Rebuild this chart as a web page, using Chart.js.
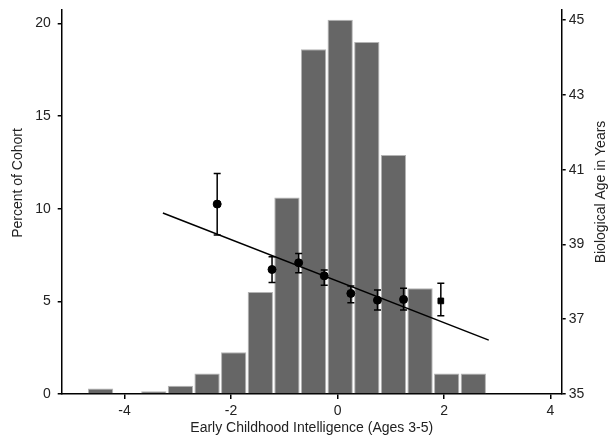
<!DOCTYPE html>
<html>
<head>
<meta charset="utf-8">
<script src="https://cdn.jsdelivr.net/npm/chart.js@4.4.1/dist/chart.umd.min.js"></script>
<style>
  body { margin: 0; background: #fff; }
  #wrap { width: 609px; height: 439px; }
</style>
</head>
<body>
<div id="wrap"><canvas id="chart"></canvas></div>
<script>
// histogram bins (centre of each 0.5 wide bin) and percent of cohort
var binX = [-4.45, -3.95, -3.45, -2.95, -2.45, -1.95, -1.45, -0.95, -0.45, 0.05, 0.55, 1.05, 1.55, 2.05, 2.55];
var binPct = [0.3, 0, 0.15, 0.45, 1.1, 2.25, 5.5, 10.6, 18.6, 20.2, 19.0, 12.9, 5.7, 1.1, 1.1];

// mean biological age with error bars
var ageX = [-2.26, -1.23, -0.73, -0.25, 0.25, 0.75, 1.24, 1.94];
var ageY = [40.08, 38.33, 38.51, 38.16, 37.69, 37.51, 37.53, 37.49];
var ageLo = [39.25, 37.98, 38.24, 37.91, 37.44, 37.25, 37.25, 37.09];
var ageHi = [40.90, 38.67, 38.76, 38.32, 37.89, 37.78, 37.83, 37.96];
var ageStyle = ['circle', 'circle', 'circle', 'circle', 'circle', 'circle', 'circle', 'rect'];

// fitted line
var fitX = [-3.28, 2.84];
var fitY = [39.84, 36.44];

var xTicks = [-4, -2, 0, 2, 4];
var pctTicks = [0, 5, 10, 15, 20];
var ageTicks = [35, 37, 39, 41, 43, 45];

var textColor = '#222';
var fontFam = '"Liberation Sans", Arial, sans-serif';

function pts(xs, ys) {
    var out = [];
    for (var i = 0; i < xs.length; i++) {
        out.push({x: xs[i], y: ys[i]});
    }
    return out;
}

function setTicks(list) {
    return function(scale) {
        scale.ticks = list.map(function(v) { return {value: v}; });
    };
}

var errorBars = {
    id: 'errorBars',
    afterDatasetsDraw: function(chart) {
        var ctx = chart.ctx;
        var xs = chart.scales.x, ys = chart.scales.y2;
        ctx.save();
        ctx.strokeStyle = '#000';
        ctx.lineWidth = 1.5;
        for (var i = 0; i < ageX.length; i++) {
            var px = xs.getPixelForValue(ageX[i]);
            var top = ys.getPixelForValue(ageHi[i]);
            var bot = ys.getPixelForValue(ageLo[i]);
            ctx.beginPath();
            ctx.moveTo(px, top); ctx.lineTo(px, bot);
            ctx.moveTo(px - 3.5, top); ctx.lineTo(px + 3.5, top);
            ctx.moveTo(px - 3.5, bot); ctx.lineTo(px + 3.5, bot);
            ctx.stroke();
        }
        ctx.restore();
    }
};

var axisTitles = {
    id: 'axisTitles',
    afterDraw: function(chart) {
        var ctx = chart.ctx;
        ctx.save();
        ctx.fillStyle = textColor;
        ctx.font = '14px ' + fontFam;
        ctx.textAlign = 'center';
        ctx.textBaseline = 'middle';
        ctx.fillText('Early Childhood Intelligence (Ages 3-5)', 311.7, 428);

        ctx.translate(18, 183);
        ctx.rotate(-Math.PI / 2);
        ctx.fillText('Percent of Cohort', 0, 0);
        ctx.restore();

        ctx.save();
        ctx.fillStyle = textColor;
        ctx.font = '14px ' + fontFam;
        ctx.textAlign = 'center';
        ctx.textBaseline = 'middle';
        ctx.translate(601.5, 192);
        ctx.rotate(-Math.PI / 2);
        ctx.fillText('Biological Age in Years', 0, 0);
        ctx.restore();
    }
};

var axisLine = {color: '#000', width: 1.5};
var tickGrid = {display: true, drawOnChartArea: false, drawTicks: true, color: '#000', lineWidth: 1.5};

var myChart = new Chart(document.getElementById('chart'), {
    type: 'bar',
    data: {
        datasets: [{
            type: 'line',
            data: pts(ageX, ageY),
            yAxisID: 'y2',
            showLine: false,
            pointStyle: ageStyle,
            pointRadius: 4,
            pointBackgroundColor: '#000',
            pointBorderColor: '#000',
            pointBorderWidth: 1,
            order: 0
        }, {
            type: 'line',
            data: pts(fitX, fitY),
            yAxisID: 'y2',
            borderColor: '#000',
            borderWidth: 1.5,
            pointRadius: 0,
            fill: false,
            order: 1
        }, {
            type: 'bar',
            data: pts(binX, binPct),
            yAxisID: 'y',
            backgroundColor: '#666666',
            borderColor: '#b4b4b4',
            borderWidth: 1,
            barPercentage: 0.95,
            categoryPercentage: 1,
            order: 2
        }]
    },
    options: {
        responsive: true,
        maintainAspectRatio: false,
        animation: false,
        layout: {padding: {top: 9.3, left: 0, right: 0, bottom: 0}},
        plugins: {
            legend: {display: false},
            tooltip: {enabled: false}
        },
        scales: {
            x: {
                type: 'linear',
                min: -5.18,
                max: 4.21,
                offset: false,
                afterBuildTicks: setTicks(xTicks),
                afterFit: function(s) { s.height = 45; s.paddingLeft = 0; s.paddingRight = 0; },
                border: axisLine,
                grid: Object.assign({tickLength: 5, offset: false}, tickGrid),
                ticks: {color: textColor, font: {family: fontFam, size: 14}, padding: 4, maxRotation: 0}
            },
            y: {
                position: 'left',
                min: 0,
                max: 20.76,
                afterBuildTicks: setTicks(pctTicks),
                afterFit: function(s) { s.width = 61.7; s.paddingTop = 0; s.paddingBottom = 0; },
                border: axisLine,
                grid: Object.assign({tickLength: 4}, tickGrid),
                ticks: {color: textColor, font: {family: fontFam, size: 14}, padding: 7}
            },
            y2: {
                position: 'right',
                min: 35,
                max: 45.29,
                afterBuildTicks: setTicks(ageTicks),
                afterFit: function(s) { s.width = 47.3; s.paddingTop = 0; s.paddingBottom = 0; },
                border: axisLine,
                grid: Object.assign({tickLength: 4}, tickGrid),
                ticks: {color: textColor, font: {family: fontFam, size: 14}, padding: 3}
            }
        }
    },
    plugins: [errorBars, axisTitles]
});
</script>
</body>
</html>
